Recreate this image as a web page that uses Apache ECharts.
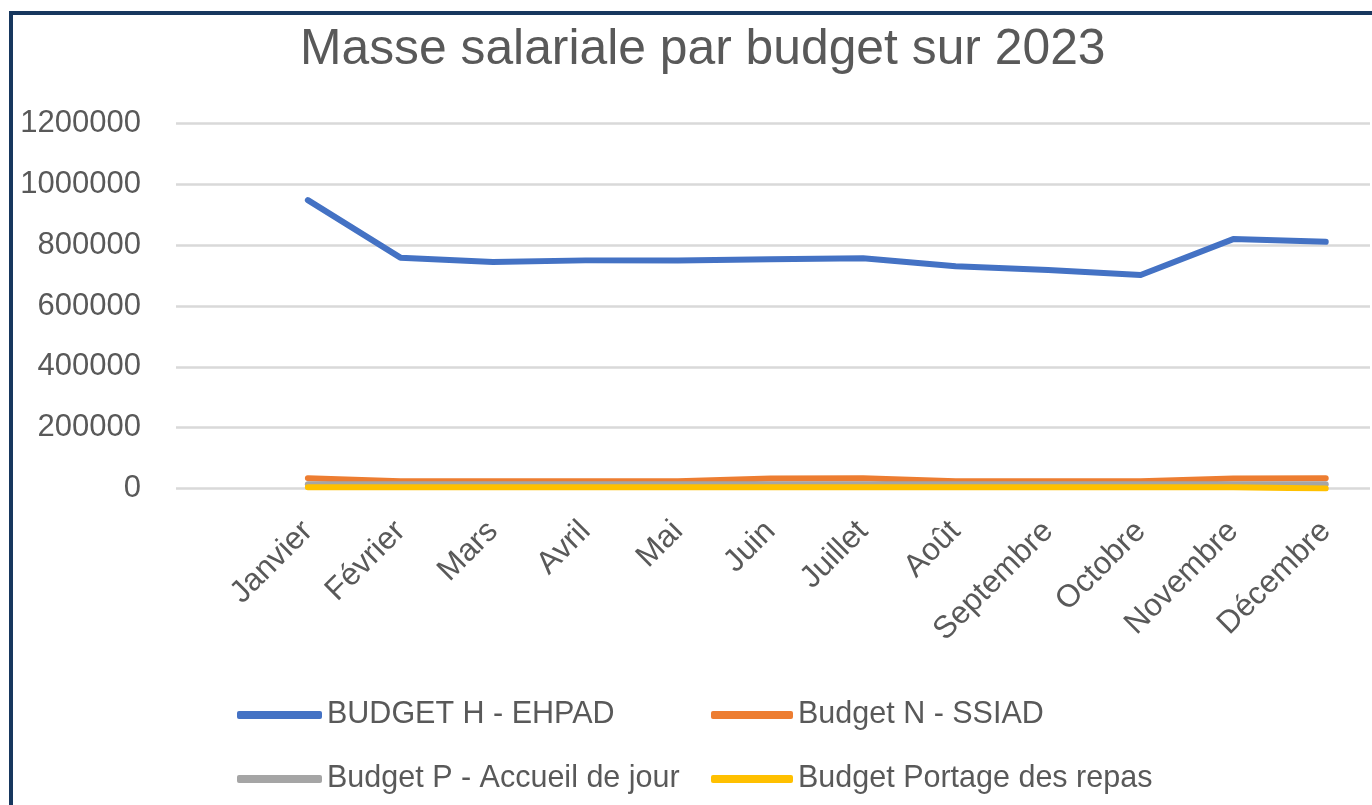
<!DOCTYPE html>
<html lang="fr">
<head>
<meta charset="utf-8">
<title>Masse salariale par budget sur 2023</title>
<script src="https://cdn.jsdelivr.net/npm/echarts@6/dist/echarts.min.js"></script>
<style>
  html, body { margin: 0; padding: 0; background: #ffffff; }
  #chart { width: 1372px; height: 805px; }
</style>
</head>
<body>
<div id="chart"></div>
<script>
// Mois de l'exercice 2023
const months = ['Janvier', 'Février', 'Mars', 'Avril', 'Mai', 'Juin', 'Juillet', 'Août', 'Septembre', 'Octobre', 'Novembre', 'Décembre'];

// Masse salariale mensuelle par budget (en euros)
const budgetH = [948000, 759000, 745000, 750000, 750000, 754000, 757000, 731000, 718000, 702000, 820000, 811000];
const budgetN = [34000, 24000, 24000, 24000, 24000, 33000, 34000, 24000, 24000, 24000, 33000, 34000];
const budgetP = [14000, 14000, 14000, 14000, 14000, 14000, 14000, 14000, 14000, 14000, 14000, 14000];
const budgetPortage = [4000, 4000, 4000, 4000, 4000, 4000, 4000, 4000, 4000, 4000, 4000, 0];

const seriesNames = ['BUDGET H - EHPAD', 'Budget N - SSIAD', 'Budget P - Accueil de jour', 'Budget Portage des repas'];
const seriesColors = ['#4472C4', '#ED7D31', '#A5A5A5', '#FFC000'];
const seriesData = [budgetH, budgetN, budgetP, budgetPortage];

const FONT = '"Liberation Sans", Arial, sans-serif';
const TEXT_COLOR = '#595959';

const chart = echarts.init(document.getElementById('chart'), null, { renderer: 'canvas' });

const plotTop = 123.5;
const plotHeight = 365;

const legendBase = {
  orient: 'vertical',
  top: 698,
  padding: 0,
  itemHeight: 8,
  itemGap: 30,
  icon: 'roundRect',
  textStyle: { fontFamily: FONT, fontSize: 30.5, color: TEXT_COLOR, lineHeight: 34 }
};

chart.setOption({
  animation: false,
  backgroundColor: '#ffffff',
  title: {
    text: 'Masse salariale par budget sur 2023',
    left: 300,
    top: 25,
    padding: 0,
    textStyle: { fontFamily: FONT, fontSize: 49.8, fontWeight: 'normal', color: TEXT_COLOR }
  },
  graphic: [{
    type: 'rect',
    shape: { x: 11, y: 13, width: 1420, height: 900 },
    style: { fill: 'none', stroke: '#17375E', lineWidth: 4 },
    z: 100,
    silent: true
  }],
  legend: [
    Object.assign({}, legendBase, { data: [seriesNames[0], seriesNames[2]], left: 237, itemWidth: 85 }),
    Object.assign({}, legendBase, { data: [seriesNames[1], seriesNames[3]], left: 711, itemWidth: 82 })
  ],
  grid: [
    { left: 176, width: 1194, top: plotTop, height: plotHeight, containLabel: false },
    { left: 261.6, width: 1112, top: plotTop, height: plotHeight, containLabel: false }
  ],
  xAxis: [
    { gridIndex: 0, type: 'category', data: months, show: false },
    {
      gridIndex: 1,
      type: 'category',
      data: months,
      boundaryGap: true,
      axisLine: { show: false },
      axisTick: { show: false },
      axisLabel: {
        rotate: 45,
        margin: 38,
        interval: 0,
        fontFamily: FONT,
        fontSize: 31.5,
        color: TEXT_COLOR
      }
    }
  ],
  yAxis: [
    {
      gridIndex: 0,
      type: 'value',
      min: 0,
      max: 1200000,
      interval: 200000,
      axisLine: { show: false },
      axisTick: { show: false },
      axisLabel: {
        margin: 35,
        fontFamily: FONT,
        fontSize: 31,
        color: TEXT_COLOR,
        formatter: (v) => String(v)
      },
      splitLine: { lineStyle: { color: '#D9D9D9', width: 2.5 } }
    },
    {
      gridIndex: 1,
      type: 'value',
      min: 0,
      max: 1200000,
      interval: 200000,
      show: false,
      splitLine: { show: false }
    }
  ],
  series: seriesNames.map((name, i) => ({
    name: name,
    type: 'line',
    xAxisIndex: 1,
    yAxisIndex: 1,
    data: seriesData[i],
    symbol: 'none',
    clip: true,
    color: seriesColors[i],
    lineStyle: { width: 6, color: seriesColors[i], cap: 'round', join: 'round' },
    z: 2 + i
  }))
});
</script>
</body>
</html>
